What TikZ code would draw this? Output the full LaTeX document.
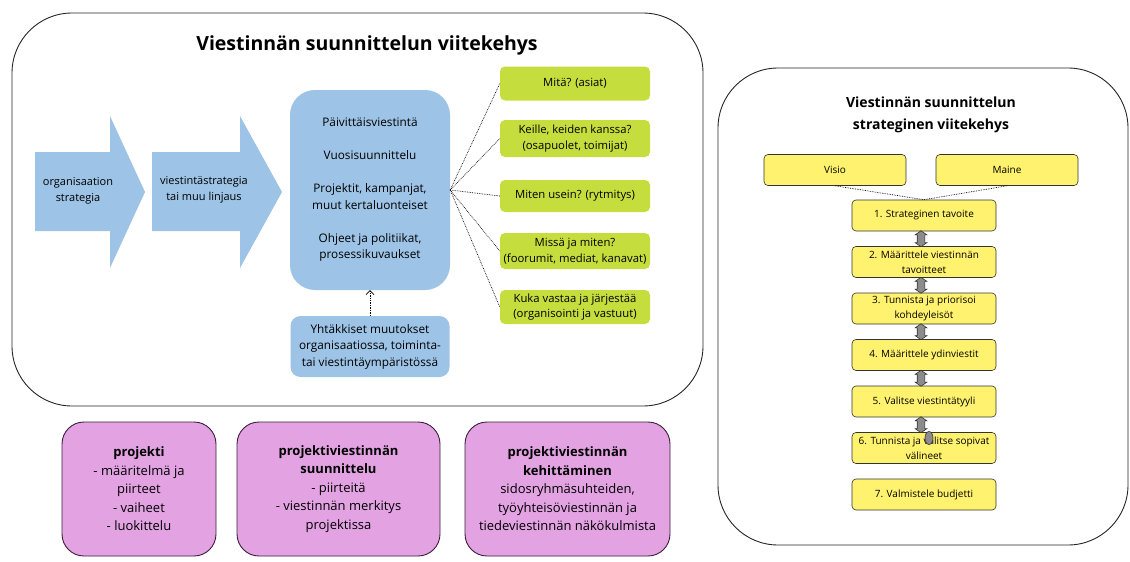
\documentclass[tikz,border=0pt]{standalone}
\usepackage{fontspec}
\setmainfont{Open Sans}
\usetikzlibrary{shapes.arrows,shapes.geometric,arrows.meta,calc}

\definecolor{planblue}{HTML}{9DC3E6}
\definecolor{asklime}{HTML}{C5DE3D}
\definecolor{stepyellow}{HTML}{FFF26E}
\definecolor{topicpink}{HTML}{E3A3E3}
\definecolor{pinkline}{HTML}{3B1F3B}
\definecolor{knobgray}{HTML}{8C8C8C}

\begin{document}
\begin{tikzpicture}[
            x=1pt, y=-1pt,
            frame/.style={draw=black!85, line width=0.9pt, rounded corners=#1},
            frame/.default=60pt,
            bluebox/.style={fill=planblue, rounded corners=#1, align=center,
                inner sep=0pt, font=\fontsize{11.8}{16.5}\selectfont},
            bluebox/.default=25pt,
            arrowtext/.style={align=center, inner sep=0pt,
                font=\fontsize{11}{15.5}\selectfont},
            askbox/.style={fill=asklime, rounded corners=5pt, align=center,
                minimum width=150, minimum height=34, inner sep=1pt,
                font=\fontsize{11.3}{15.5}\selectfont},
            stepbox/.style={draw=black!80, line width=0.6pt, fill=stepyellow,
                rounded corners=4pt, align=center, minimum width=144,
                minimum height=31, inner sep=1pt,
                font=\fontsize{10}{14.5}\selectfont},
            topic/.style={draw=pinkline, line width=0.9pt, fill=topicpink,
                rounded corners=22pt, align=center, minimum height=134,
                inner sep=0pt, font=\fontsize{13}{18.5}\selectfont},
            swap/.style={double arrow, draw=black!80, fill=knobgray,
                line width=0.6pt, minimum height=16, inner xsep=0pt,
                inner ysep=3.5pt, double arrow head extend=2pt,
                double arrow tip angle=110, rotate=90},
            link/.style={densely dotted, line width=0.7pt}
        ]
        \useasboundingbox (0,0) rectangle (1130,562);

        % left frame
        \draw[frame] (12,13) rectangle (703,406);
        \node[font=\bfseries\fontsize{19.5}{22}\selectfont] (title) at (367,45)
            {Viestinnän suunnittelun viitekehys};

        % strategy arrows
        \fill[planblue] (35,152) -- (110,152) -- (110,116) -- (145,192)
            -- (110,268) -- (110,231) -- (35,231) -- cycle;
        \fill[planblue] (152,152) -- (240,152) -- (240,116) -- (282,192)
            -- (240,268) -- (240,231) -- (152,231) -- cycle;
        \node[arrowtext] (orgstrat) at (78,191) {organisaation\\strategia};
        \node[arrowtext] (commstrat) at (204,190)
            {viestintästrategia\\tai muu linjaus};

        % planning levels
        \node[bluebox, minimum width=160, minimum height=200] (plan)
            at (370,190) {Päivittäisviestintä\\[16.5pt]Vuosisuunnittelu\\[16.5pt]%
            Projektit, kampanjat,\\muut kertaluonteiset\\[16.5pt]%
            Ohjeet ja politiikat,\\prosessikuvaukset};
        \node[bluebox=10pt, minimum width=159, minimum height=61] (sudden)
            at (370,346.5) {Yhtäkkiset muutokset\\organisaatiossa, toiminta-\\%
            tai viestintäympäristössä};
        \draw[link, -{Straight Barb[length=4pt, width=8pt]}] (sudden) -- (plan);

        % questions
        \node[askbox] (what) at (575,83.5) {Mitä? (asiat)};
        \node[askbox, minimum height=37] (whom) at (575,138.5)
            {Keille, keiden kanssa?\\(osapuolet, toimijat)};
        \node[askbox, minimum height=32] (often) at (575,196)
            {Miten usein? (rytmitys)};
        \node[askbox, minimum height=36] (where) at (575,251)
            {Missä ja miten?\\(foorumit, mediat, kanavat)};
        \node[askbox] (who) at (575,307)
            {Kuka vastaa ja järjestää\\(organisointi ja vastuut)};
        \coordinate (fan) at (plan.east);
        \foreach \q in {what, whom, often, where, who}
            \draw[link] (fan) -- (\q.west);

        % topics
        \node[topic, minimum width=154] (project) at (139,489)
            {\textbf{projekti}\\- määritelmä ja\\piirteet\\- vaiheet\\- luokittelu};
        \node[topic, minimum width=203] (projplan) at (338.5,489)
            {\textbf{projektiviestinnän}\\\textbf{suunnittelu}\\- piirteitä\\%
            - viestinnän merkitys\\projektissa};
        \node[topic, minimum width=205] (projdev) at (567.5,489)
            {\textbf{projektiviestinnän}\\\textbf{kehittäminen}\\%
            sidosryhmäsuhteiden,\\työyhteisöviestinnän ja\\%
            tiedeviestinnän näkökulmista};

        % right frame
        \draw[frame] (718,68) rectangle (1128,545);
        \node[align=center, font=\bfseries\fontsize{14}{22}\selectfont]
            (stitle) at (931,115)
            {Viestinnän suunnittelun\\strateginen viitekehys};
        \node[stepbox, minimum width=142] (vision) at (835,170) {Visio};
        \node[stepbox, minimum width=142] (image) at (1007,170) {Maine};
        \node[stepbox] (s1) at (924,215.5) {1. Strateginen tavoite};
        \node[stepbox] (s2) at (924,262) {2. Määrittele viestinnän\\tavoitteet};
        \node[stepbox] (s3) at (924,308.5) {3. Tunnista ja priorisoi\\kohdeyleisöt};
        \node[stepbox] (s4) at (924,355) {4. Määrittele ydinviestit};
        \node[stepbox] (s5) at (924,401.5) {5. Valitse viestintätyyli};
        \node[stepbox] (s6) at (924,448) {6. Tunnista ja valitse sopivat\\välineet};
        \node[stepbox] (s7) at (924,494.5) {7. Valmistele budjetti};
        \draw[link] (vision.south) -- (s1.north);
        \draw[link] (image.south) -- (s1.north);
        \foreach \a/\b in {s1/s2, s2/s3, s3/s4, s4/s5, s5/s6}
            \node[swap] at ($(\a.south)!0.5!(\b.north) + (-3,0)$) {};
        \node[ellipse, draw=black!80, fill=knobgray, line width=0.6pt,
            minimum width=8, minimum height=13, inner sep=0pt] (knob)
            at (929,438) {};
    \end{tikzpicture}
\end{document}
